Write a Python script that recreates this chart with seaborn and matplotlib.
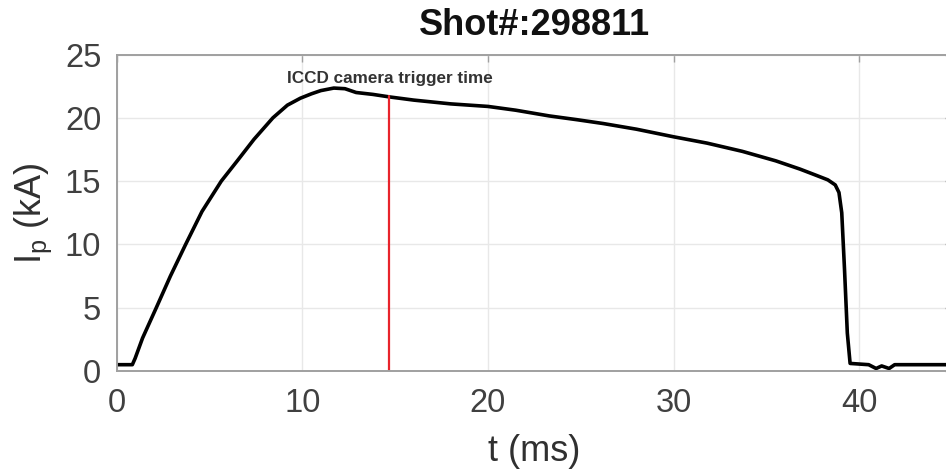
import matplotlib
matplotlib.use('Agg')
import matplotlib.pyplot as plt
import pandas as pd
import seaborn as sns

# plasma current trace
t_ms = [0.0, 0.85, 1.0, 1.4, 2.14, 2.9, 3.72, 4.6, 5.64, 6.5, 7.4, 8.42, 9.2,
        9.9, 10.5, 11.0, 11.7, 12.3, 12.9, 13.8, 14.7, 16.0, 18.0, 20.0, 21.5,
        23.3, 24.8, 26.2, 28.0, 30.0, 31.8, 33.7, 35.5, 36.8, 37.6, 38.3, 38.7,
        38.9, 39.05, 39.2, 39.35, 39.5, 40.5, 40.9, 41.2, 41.6, 41.9, 45.0]
ip_ka = [0.5, 0.5, 1.0, 2.6, 5.0, 7.5, 10.0, 12.6, 15.0, 16.6, 18.3, 20.0, 21.0,
         21.55, 21.9, 22.15, 22.35, 22.3, 22.0, 21.85, 21.65, 21.4, 21.1, 20.9,
         20.6, 20.15, 19.85, 19.55, 19.1, 18.5, 18.0, 17.35, 16.6, 15.95, 15.5,
         15.1, 14.7, 14.1, 12.5, 8.0, 3.0, 0.6, 0.5, 0.2, 0.4, 0.2, 0.5, 0.5]

trigger_t = [14.65, 14.65]
trigger_ip = [0.0, 21.7]

df = pd.DataFrame({'t': t_ms, 'Ip': ip_ka})
df_trig = pd.DataFrame({'t': trigger_t, 'Ip': trigger_ip})

sns.set_theme(style='whitegrid')
plt.rcParams['font.family'] = ['Liberation Sans', 'DejaVu Sans']
plt.rcParams['mathtext.fontset'] = 'custom'
plt.rcParams['mathtext.rm'] = 'Liberation Sans'
plt.rcParams['mathtext.it'] = 'Liberation Sans'

fig = plt.figure(figsize=(9.46, 4.70), dpi=100)
ax = fig.add_axes([0.1232, 0.2106, 0.8834, 0.6734])

sns.lineplot(data=df, x='t', y='Ip', ax=ax, color='black', linewidth=2.6,
             sort=False, estimator=None)
sns.lineplot(data=df_trig, x='t', y='Ip', ax=ax, color='#e8232b', linewidth=1.6,
             sort=False, estimator=None)

ax.set_xlim(0, 45)
ax.set_ylim(0, 25)
ax.set_xticks([0, 10, 20, 30, 40])
ax.set_yticks([0, 5, 10, 15, 20, 25])

ax.grid(True, color='#e8e8e8', linewidth=1.0)
for s in ax.spines.values():
    s.set_color('#a0a0a0')
    s.set_linewidth(1.4)
    s.set_visible(True)
ax.tick_params(axis='both', direction='in', length=5, width=1, color='#a0a0a0',
               labelsize=23.5, labelcolor='#404040', top=True, right=True)
ax.tick_params(axis='x', pad=12)
ax.tick_params(axis='y', pad=11)

ax.set_xlabel('t (ms)', fontsize=26, color='#303030', labelpad=11)
ax.set_ylabel('$\\mathregular{I_p}$ (kA)', fontsize=26, color='#303030', labelpad=8)
ax.set_title('Shot#:298811', fontsize=26, fontweight='bold', color='#111111', pad=14)

ax.text(9.2, 22.75, 'ICCD camera trigger time', fontsize=12.3, fontweight='bold',
        color='#333333', va='baseline', ha='left')

fig.savefig('out.png', dpi=100)
